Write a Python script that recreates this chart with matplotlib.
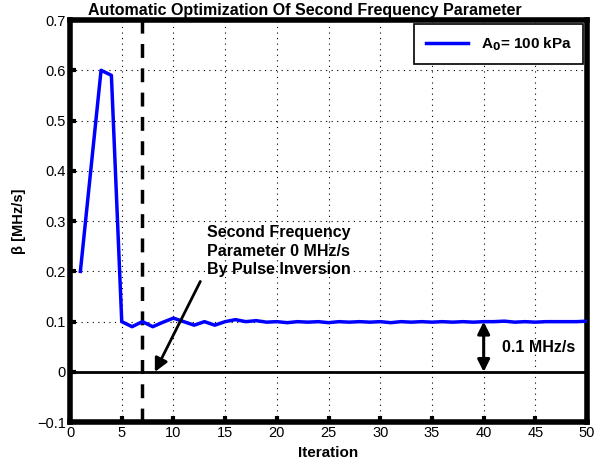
import matplotlib
matplotlib.use("Agg")
import matplotlib.pyplot as plt

plt.rcParams['font.family'] = ['Liberation Sans', 'DejaVu Sans']

iterations = list(range(1, 51))
beta = [0.2, 0.4, 0.6, 0.59, 0.1, 0.09, 0.1, 0.09, 0.099, 0.107,
        0.1, 0.093, 0.1, 0.093, 0.1, 0.104, 0.1, 0.102, 0.099, 0.1,
        0.098, 0.1, 0.099, 0.1, 0.098, 0.1, 0.099, 0.1, 0.099, 0.1,
        0.098, 0.1, 0.099, 0.1, 0.099, 0.1, 0.099, 0.1, 0.099, 0.1,
        0.1, 0.101, 0.099, 0.1, 0.099, 0.1, 0.1, 0.1, 0.1, 0.101]
xticks = [0, 5, 10, 15, 20, 25, 30, 35, 40, 45, 50]
yticks = [-0.1, 0, 0.1, 0.2, 0.3, 0.4, 0.5, 0.6, 0.7]
ytick_labels = ['\u22120.1', '0', '0.1', '0.2', '0.3', '0.4', '0.5', '0.6', '0.7']
switch_iter = 7
zero_level = 0.0
arrow_iter = 40
arrow_gap = 0.1

fig = plt.figure(figsize=(6.09, 4.66), dpi=100)
ax = fig.add_axes([0.115, 0.094, 0.849, 0.863])

ax.plot(iterations, beta, color='#0000ff', lw=2.5, label='A$_\\mathbf{0}$= 100 kPa', zorder=3)
ax.plot([0, 50], [zero_level, zero_level], color='black', lw=2, zorder=2)
ax.axvline(switch_iter, color='black', lw=2.5, ls=(0, (4, 3)), zorder=2)

ax.set_xlim(0, 50)
ax.set_ylim(-0.1, 0.7)
ax.set_xticks(xticks)
ax.set_yticks(yticks)
ax.set_yticklabels(ytick_labels)
ax.grid(True, color='black', ls=(0, (1, 4)), lw=0.8)
ax.tick_params(direction='in', length=4, width=3, labelsize=10.5, pad=3)
for s in ax.spines.values():
    s.set_linewidth(4)

fig.text(0.5, 0.962, 'Automatic Optimization Of Second Frequency Parameter',
         fontsize=11.5, fontweight='bold', ha='center', va='bottom')
ax.set_xlabel('Iteration', fontsize=11, fontweight='bold', labelpad=4)
ax.set_ylabel('\u03b2 [MHz/s]', fontsize=10.5, fontweight='bold', labelpad=8)

ax.annotate('', xy=(8.2, zero_level), xytext=(12.6, 0.18),
            arrowprops=dict(arrowstyle='-|>', color='black', lw=2,
                            mutation_scale=20, shrinkA=0, shrinkB=0))
ax.text(13.2, 0.24, 'Second Frequency\nParameter 0 MHz/s\nBy Pulse Inversion',
        fontsize=11.5, fontweight='bold', va='center', ha='left', linespacing=1.3)

ax.annotate('', xy=(arrow_iter, zero_level), xytext=(arrow_iter, arrow_gap),
            arrowprops=dict(arrowstyle='<|-|>', color='black', lw=2.2,
                            mutation_scale=18, shrinkA=0, shrinkB=0))
ax.text(41.8, 0.048, '0.1 MHz/s', fontsize=11.5, fontweight='bold',
        va='center', ha='left')

leg = ax.legend(loc='upper right', prop={'weight': 'bold', 'size': 11},
                fancybox=False, edgecolor='black', framealpha=1,
                borderaxespad=0.25, handlelength=2.8, borderpad=0.75)
leg.get_frame().set_linewidth(1.2)

fig.savefig('out.png', dpi=100)
